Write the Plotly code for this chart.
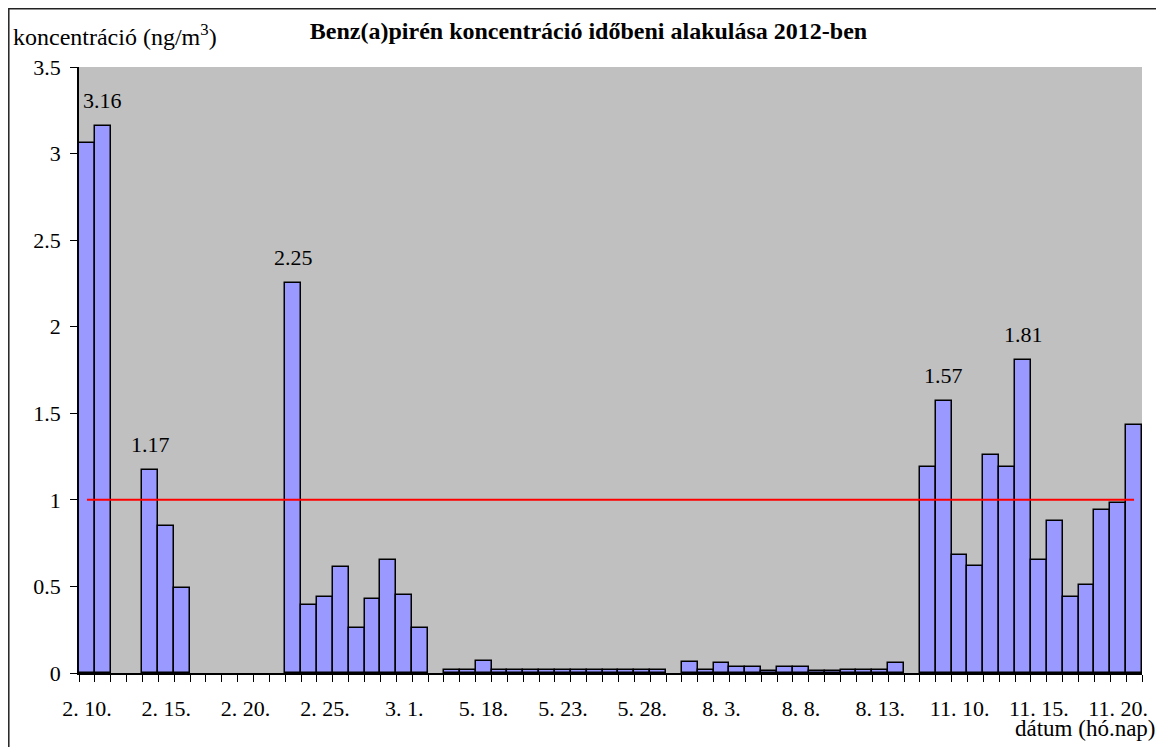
import plotly.graph_objects as go

# sampling days (hó. nap.), empty strings are the gaps between campaigns
dates = [
    "2. 10.", "2. 11.", "2. 12.", "2. 13.", "2. 14.", "2. 15.", "2. 16.", "2. 17.", "2. 18.", "2. 19.",
    "2. 20.", "2. 21.", "2. 22.", "2. 23.", "2. 24.", "2. 25.", "2. 26.", "2. 27.", "2. 28.", "2. 29.",
    "3. 1.", "3. 2.", "",
    "5. 16.", "5. 17.", "5. 18.", "5. 19.", "5. 20.", "5. 21.", "5. 22.", "5. 23.", "5. 24.", "5. 25.",
    "5. 26.", "5. 27.", "5. 28.", "5. 29.", "",
    "8. 1.", "8. 2.", "8. 3.", "8. 4.", "8. 5.", "8. 6.", "8. 7.", "8. 8.", "8. 9.", "8. 10.",
    "8. 11.", "8. 12.", "8. 13.", "8. 14.", "",
    "11. 8.", "11. 9.", "11. 10.", "11. 11.", "11. 12.", "11. 13.", "11. 14.", "11. 15.", "11. 16.", "11. 17.",
    "11. 18.", "11. 19.", "11. 20.", "11. 21.",
]

# benz(a)pirén, ng/m3
bap = [
    3.06, 3.16, None, None, 1.17, 0.85, 0.49, None, None, None,
    None, None, None, 2.25, 0.39, 0.44, 0.61, 0.26, 0.43, 0.65,
    0.45, 0.26, None,
    0.02, 0.02, 0.07, 0.02, 0.02, 0.02, 0.02, 0.02, 0.02, 0.02,
    0.02, 0.02, 0.02, 0.02, None,
    0.065, 0.02, 0.055, 0.035, 0.035, 0.01, 0.035, 0.035, 0.01, 0.01,
    0.02, 0.02, 0.02, 0.055, None,
    1.19, 1.57, 0.68, 0.62, 1.26, 1.19, 1.81, 0.65, 0.88, 0.44,
    0.51, 0.94, 0.98, 1.43,
]

limit = 1.0  # célérték
labelled = ["2. 11.", "2. 14.", "2. 23.", "11. 9.", "11. 14."]
label_step = 5

FONT = "Liberation Serif"
OFF = 8  # page body margin, the figure starts 8px in

pos = list(range(len(dates)))

fig = go.Figure()
fig.add_trace(go.Bar(
    x=pos, y=bap,
    marker=dict(color="#9999FF", line=dict(color="black", width=1.5)),
    hoverinfo="y",
))
fig.add_trace(go.Scatter(
    x=pos, y=[limit] * len(pos),
    mode="lines", line=dict(color="#FF0000", width=2),
    hoverinfo="skip",
))

for d in labelled:
    i = dates.index(d)
    fig.add_annotation(x=i, y=bap[i], text=f"{bap[i]:.2f}", showarrow=False,
                       yanchor="bottom", yshift=11, font=dict(size=22, color="black", family=FONT))


# screen px -> paper (plot area 79..1142 x 67..673 on screen)
def px(xp):
    return (xp - 79) / 1063


def py(yp):
    return (673 - yp) / 606


fig.add_annotation(xref="paper", yref="paper", x=px(11), y=py(35), xanchor="left", yanchor="middle",
                   text="koncentráció (ng/m<sup>3</sup>)", showarrow=False,
                   font=dict(size=24, color="black", family=FONT))
fig.add_annotation(xref="paper", yref="paper", x=px(1158), y=py(728), xanchor="right", yanchor="middle",
                   text="dátum (hó.nap)", showarrow=False,
                   font=dict(size=23, color="black", family=FONT))

# outer chart frame
fig.add_shape(type="rect", xref="paper", yref="paper",
              x0=px(8.8), x1=px(1158), y0=py(770), y1=py(8.8),
              line=dict(color="#222222", width=1.5), layer="below")

W, H = 1164 - OFF, 747 - OFF
fig.update_layout(
    width=W, height=H,
    margin=dict(l=79 - OFF, r=1164 - 1142, t=67 - OFF, b=747 - 673),
    paper_bgcolor="white", plot_bgcolor="#C0C0C0",
    font=dict(family=FONT, size=22, color="black"),
    bargap=0, showlegend=False,
    title=dict(text="<b>Benz(a)pirén koncentráció időbeni alakulása 2012-ben</b>",
               x=(588.5 - OFF) / W, xanchor="center", y=1 - (30.5 - OFF) / H, yanchor="middle",
               font=dict(size=24, family=FONT, color="black")),
    xaxis=dict(
        range=[-0.5, len(dates) - 0.5],
        tickmode="array", tickvals=pos[::label_step], ticktext=dates[::label_step],
        ticks="outside", ticklen=15, tickcolor="rgba(0,0,0,0)",
        minor=dict(tickmode="linear", tick0=-0.5, dtick=1, ticks="outside",
                   ticklen=7, tickcolor="black", tickwidth=1, showgrid=False),
        showline=True, linecolor="black", linewidth=1.5,
        showgrid=False, zeroline=False,
        tickfont=dict(size=22, family=FONT),
    ),
    yaxis=dict(
        range=[0, 3.5], dtick=0.5,
        ticks="outside", ticklen=7, tickcolor="black",
        ticklabelstandoff=5,
        showline=True, linecolor="black", linewidth=1.5,
        showgrid=False, zeroline=False,
        tickfont=dict(size=22, family=FONT),
    ),
)

fig.write_html("out.html")
